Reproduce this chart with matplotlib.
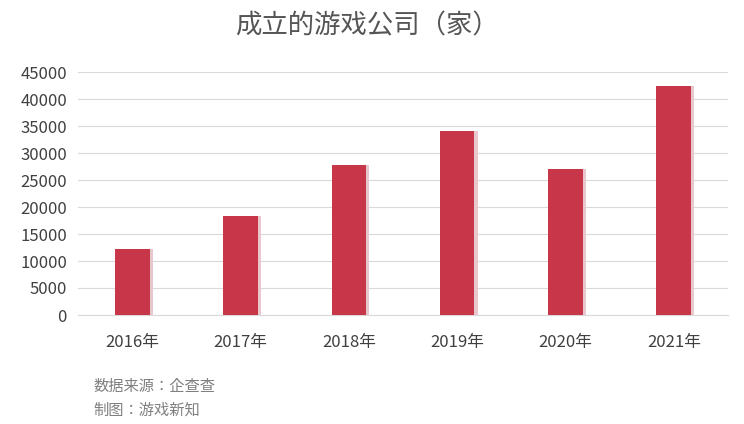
import glob
import matplotlib.pyplot as plt
from matplotlib import font_manager

# the CJK font may live in a .ttc that matplotlib does not index by default
for path in glob.glob("/usr/share/fonts/**/*CJK*", recursive=True):
    try:
        font_manager.fontManager.addfont(path)
    except Exception:
        pass
cjk = sorted({f.name for f in font_manager.fontManager.ttflist if "Sans CJK" in f.name})
pick = [n for n in cjk if n.endswith("SC")] or cjk
plt.rcParams["font.sans-serif"] = pick[:1] + ["DejaVu Sans"]
plt.rcParams["font.family"] = "sans-serif"

years = ["2016年", "2017年", "2018年", "2019年", "2020年", "2021年"]
companies = [12200, 18300, 27800, 34100, 27000, 42500]
y_ticks = list(range(0, 45001, 5000))

fig = plt.figure(figsize=(7.44, 4.24), dpi=100)
ax = fig.add_axes([78 / 744, 1 - 315 / 424, 650 / 744, 243 / 424])

x = range(len(years))
# faint shadow to the right of each bar
ax.bar([i + 0.03 for i in x], companies, width=0.32, color="#e8c8cc", zorder=2)
ax.bar(x, companies, width=0.32, color="#c8364a", zorder=3)

ax.set_xlim(-0.5, len(years) - 0.5)
ax.set_ylim(0, 45000)
ax.set_yticks(y_ticks)
ax.set_yticklabels([str(v) for v in y_ticks], fontsize=12, color="#404040")
ax.set_xticks(list(x))
ax.set_xticklabels(years, fontsize=12, color="#404040")
ax.tick_params(length=0, pad=8)
ax.tick_params(axis="x", pad=14)
ax.grid(axis="y", color="#d9d9d9", linewidth=0.8, zorder=0)
for side in ["top", "right", "left"]:
    ax.spines[side].set_visible(False)
ax.spines["bottom"].set_color("#d9d9d9")

fig.text(367 / 744, 1 - 26 / 424, "成立的游戏公司（家）", ha="center", va="center",
         fontsize=19, color="#555555")
fig.text(93 / 744, 1 - 386 / 424, "数据来源：企查查", ha="left", va="center",
         fontsize=11, color="#808080")
fig.text(93 / 744, 1 - 410 / 424, "制图：游戏新知", ha="left", va="center",
         fontsize=11, color="#808080")

fig.savefig("out.png", dpi=100, facecolor="white")
